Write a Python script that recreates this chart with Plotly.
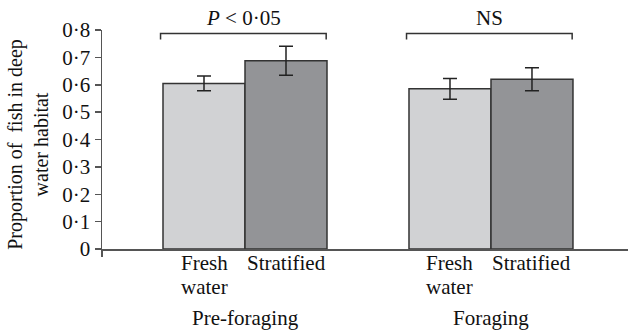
import plotly.graph_objects as go

# Data
groups = ["Pre-foraging", "Foraging"]
conditions = ["Fresh<br>water", "Stratified"]
fresh_values = [0.605, 0.585]
fresh_errors = [0.027, 0.038]
strat_values = [0.688, 0.620]
strat_errors = [0.053, 0.042]
significance = ["<i>P</i> < 0·05", "NS"]
y_tickvals = [0, 0.1, 0.2, 0.3, 0.4, 0.5, 0.6, 0.7, 0.8]
y_ticktext = ["0", "0·1", "0·2", "0·3", "0·4", "0·5", "0·6", "0·7", "0·8"]

FONT = "Liberation Serif, Times New Roman, serif"
FS = 21
LIGHT = "#d1d2d4"
DARK = "#939497"
EDGE = "#333333"
TXT = "#111111"

# positions: each group has two adjacent bars, groups separated by one gap
group_start = [1 + 3 * i for i in range(len(groups))]
fresh_x = [g for g in group_start]
strat_x = [g + 1 for g in group_start]
x_min = -0.244
x_max = 6.171

fig = go.Figure()
fig.add_trace(go.Bar(
    x=fresh_x, y=fresh_values, width=1,
    marker=dict(color=LIGHT, line=dict(color=EDGE, width=1.5)),
    error_y=dict(type="data", array=fresh_errors, color="#222222", thickness=1.5, width=7),
    showlegend=False, hoverinfo="skip",
))
fig.add_trace(go.Bar(
    x=strat_x, y=strat_values, width=1,
    marker=dict(color=DARK, line=dict(color=EDGE, width=1.5)),
    error_y=dict(type="data", array=strat_errors, color="#222222", thickness=1.5, width=7),
    showlegend=False, hoverinfo="skip",
))

annotations = []
shapes = []
for i, g in enumerate(group_start):
    left = g - 0.53
    right = g + 1.49
    top = 0.787
    drop = 0.765
    shapes.append(dict(type="path",
                       path=f"M {left},{drop} L {left},{top} L {right},{top} L {right},{drop}",
                       xref="x", yref="y", line=dict(color="#333333", width=1.5)))
    annotations.append(dict(x=(left + right) / 2, y=1, xref="x", yref="paper",
                            text=significance[i], showarrow=False, yanchor="bottom",
                            yshift=-2, font=dict(family=FONT, size=FS, color=TXT)))
    # condition labels, one annotation per line for tight line spacing
    for j, xc in enumerate([fresh_x[i], strat_x[i]]):
        for k, line in enumerate(conditions[j].split("<br>")):
            annotations.append(dict(x=xc, y=0, xref="x", yref="paper", text=line,
                                    showarrow=False, yanchor="top", yshift=0 - 24 * k,
                                    font=dict(family=FONT, size=FS, color=TXT)))
    annotations.append(dict(x=g + 0.5, y=0, xref="x", yref="paper", text=groups[i],
                            showarrow=False, yanchor="top", yshift=-55,
                            font=dict(family=FONT, size=FS, color=TXT)))

annotations.append(dict(x=0, y=0.476, xref="paper", yref="paper",
                        text="Proportion of\u00a0 fish in deep<br>water habitat",
                        textangle=-90, showarrow=False, xanchor="center", yanchor="middle",
                        xshift=-74,
                        font=dict(family=FONT, size=20, color=TXT)))

fig.update_layout(
    template="none",
    width=628, height=333,
    margin=dict(l=102, r=0, t=30, b=84, autoexpand=False),
    paper_bgcolor="white", plot_bgcolor="white",
    barmode="overlay",
    bargap=0,
    annotations=annotations,
    shapes=shapes,
    font=dict(family=FONT, size=FS, color=TXT),
)
fig.update_xaxes(range=[x_min, x_max], showgrid=False, zeroline=False, automargin=False,
                 showline=True, linecolor="#555555", linewidth=2,
                 ticks="outside", ticklen=6, tickcolor="#555555", tickwidth=1.5,
                 tickvals=[x_min], ticktext=[""])
fig.update_yaxes(range=[0, 0.8], showgrid=False, zeroline=False, automargin=False,
                 showline=True, linecolor="#555555", linewidth=1.5,
                 ticks="outside", ticklen=6, tickcolor="#555555", tickwidth=1.5,
                 tickvals=y_tickvals, ticktext=y_ticktext,
                 tickfont=dict(family=FONT, size=FS, color=TXT))

fig.write_html("out.html", config={"displayModeBar": False, "staticPlot": True},
               post_script="document.body.style.margin='0';")
